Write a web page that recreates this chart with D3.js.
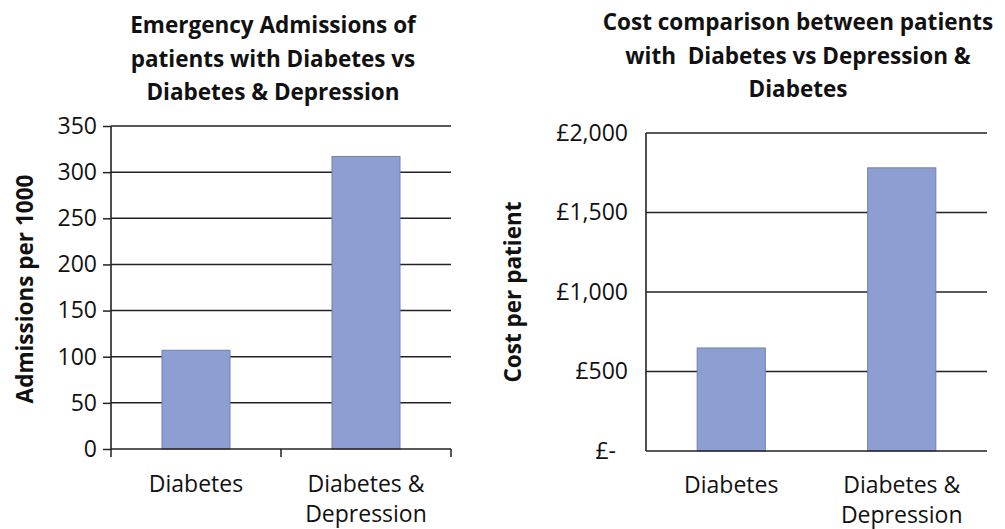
<!DOCTYPE html>
<html>
<head>
<meta charset="utf-8">
<script src="https://cdn.jsdelivr.net/npm/d3@7"></script>
<style>
  body { margin: 0; background: #fff; }
  svg text { font-family: "Open Sans", "Noto Sans", sans-serif; fill: #111; }
</style>
</head>
<body>
<svg width="1005" height="529"></svg>
<script>
const categories = ["Diabetes", "Diabetes & Depression"];
const admissions = [107, 317];
const costs = [648, 1781];
const admissionTicks = [0, 50, 100, 150, 200, 250, 300, 350];
const costTicks = [0, 500, 1000, 1500, 2000];
const leftTitle = ["Emergency Admissions of", "patients with Diabetes vs", "Diabetes & Depression"];
const rightTitle = ["Cost comparison between patients", "with  Diabetes vs Depression &", "Diabetes"];
const catLabels = [["Diabetes"], ["Diabetes &", "Depression"]];

const svg = d3.select("svg");
const barFill = "#8d9fd2";
const barStroke = "#7080b0";
const lineColor = "#222";

function drawChart(opts) {
  const g = svg.append("g");
  const x = d3.scaleBand().domain(categories).range(opts.xRange).paddingInner(0.6).paddingOuter(0.3);
  const y = d3.scaleLinear().domain(opts.yDomain).range(opts.yRange);

  // gridlines
  g.selectAll(".grid")
    .data(opts.ticks.filter((d) => d > 0))
    .enter()
    .append("line")
    .attr("x1", opts.xRange[0])
    .attr("x2", opts.xRange[1])
    .attr("y1", (d) => y(d))
    .attr("y2", (d) => y(d))
    .attr("stroke", lineColor)
    .attr("stroke-width", 1.5);

  // bars
  g.selectAll(".bar")
    .data(categories)
    .enter()
    .append("rect")
    .attr("x", (d) => x(d))
    .attr("width", x.bandwidth())
    .attr("y", (d, i) => y(opts.values[i]))
    .attr("height", (d, i) => y(0) - y(opts.values[i]))
    .attr("fill", barFill)
    .attr("stroke", barStroke)
    .attr("stroke-width", 1);

  // y axis
  const yAxis = d3.axisLeft(y)
    .tickValues(opts.ticks)
    .tickSize(opts.tickMarks ? 8 : 0)
    .tickPadding(opts.tickMarks ? 6 : 18)
    .tickFormat(opts.format);
  const ya = g.append("g")
    .attr("transform", `translate(${opts.xRange[0]},0)`)
    .call(yAxis);
  ya.select(".domain").attr("stroke", lineColor).attr("stroke-width", 1.6)
    .attr("d", `M0,${opts.yRange[0]}V${opts.yRange[1]}`);
  ya.selectAll(".tick line").attr("stroke", lineColor).attr("stroke-width", 1.5);
  ya.selectAll(".tick text").attr("font-size", 23).style("fill", "#111");
  if (opts.zeroShift) {
    ya.selectAll(".tick").filter((d) => d === 0).select("text").attr("dx", opts.zeroShift);
  }

  // x axis line
  g.append("line")
    .attr("x1", opts.xRange[0])
    .attr("x2", opts.xRange[1])
    .attr("y1", y(0))
    .attr("y2", y(0))
    .attr("stroke", lineColor)
    .attr("stroke-width", 1.6);
  if (opts.tickMarks) {
    const edges = [opts.xRange[0], (opts.xRange[0] + opts.xRange[1]) / 2, opts.xRange[1]];
    g.selectAll(".xtick")
      .data(edges)
      .enter()
      .append("line")
      .attr("x1", (d) => d)
      .attr("x2", (d) => d)
      .attr("y1", y(0))
      .attr("y2", y(0) + 8)
      .attr("stroke", lineColor)
      .attr("stroke-width", 1.5);
  }

  // category labels
  categories.forEach((c, i) => {
    const t = g.append("text")
      .attr("x", x(c) + x.bandwidth() / 2)
      .attr("y", opts.labelY)
      .attr("text-anchor", "middle")
      .attr("font-size", 23);
    catLabels[i].forEach((line, j) => {
      t.append("tspan")
        .attr("x", x(c) + x.bandwidth() / 2)
        .attr("y", opts.labelY + j * 30)
        .text(line);
    });
  });

  // axis title
  g.append("text")
    .attr("transform", `translate(${opts.axisTitleX},${opts.axisTitleY}) rotate(-90)`)
    .attr("text-anchor", "middle")
    .attr("font-size", 22.5)
    .attr("font-weight", "bold")
    .text(opts.axisTitle);

  // chart title
  const tt = g.append("text")
    .attr("text-anchor", "middle")
    .attr("font-size", 22.5)
    .attr("font-weight", "bold");
  opts.title.forEach((line, j) => {
    tt.append("tspan")
      .attr("x", opts.titleX)
      .attr("y", opts.titleY + j * 33.5)
      .style("white-space", "pre")
      .text(line);
  });
}

drawChart({
  values: admissions,
  ticks: admissionTicks,
  yDomain: [0, 350],
  xRange: [111, 451],
  yRange: [449, 126],
  tickMarks: true,
  format: d3.format("d"),
  labelY: 492,
  axisTitle: "Admissions per 1000",
  axisTitleX: 33,
  axisTitleY: 289,
  title: leftTitle,
  titleX: 273,
  titleY: 33
});

drawChart({
  values: costs,
  ticks: costTicks,
  yDomain: [0, 2000],
  xRange: [646, 987],
  yRange: [451, 133],
  tickMarks: false,
  format: (d) => (d === 0 ? "£-" : "£" + d3.format(",")(d)),
  zeroShift: -12,
  labelY: 493,
  axisTitle: "Cost per patient",
  axisTitleX: 521,
  axisTitleY: 292,
  title: rightTitle,
  titleX: 798,
  titleY: 30
});
</script>
</body>
</html>
